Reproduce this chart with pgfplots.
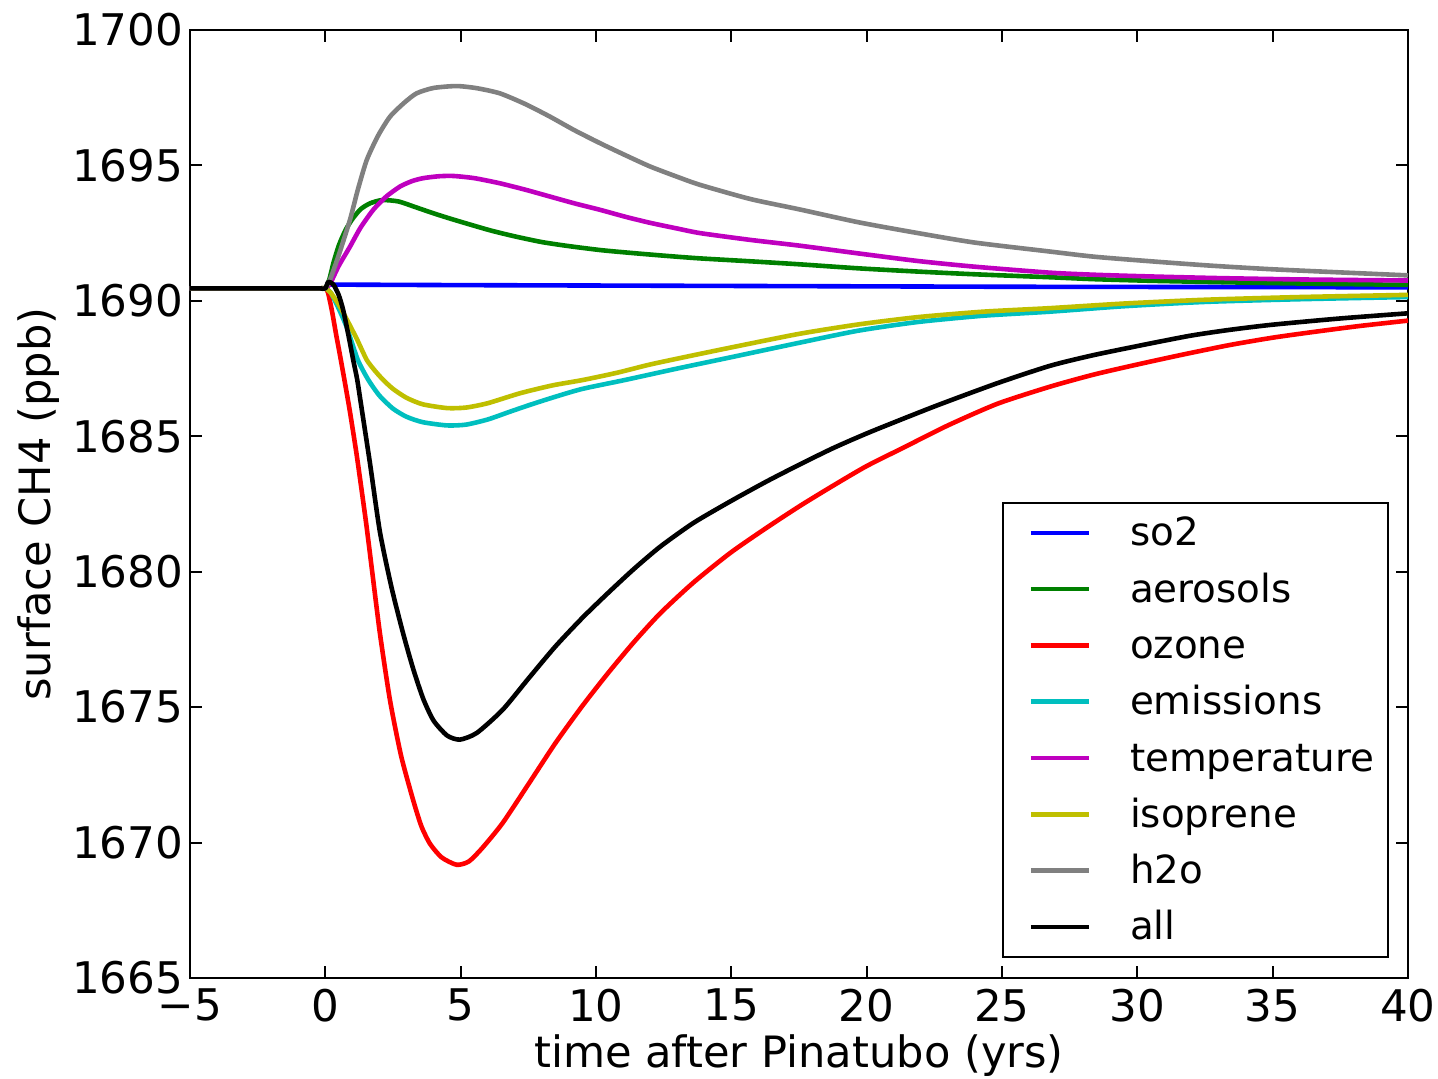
\documentclass[border=0pt]{standalone}
\usepackage{pgfplots}
\pgfplotsset{compat=1.18}
\usepackage{fontspec}
\setmainfont{DejaVu Sans}

\definecolor{mb}{rgb}{0,0,1}
\definecolor{mg}{rgb}{0,0.5,0}
\definecolor{mr}{rgb}{1,0,0}
\definecolor{mc}{rgb}{0,0.75,0.75}
\definecolor{mm}{rgb}{0.75,0,0.75}
\definecolor{my}{rgb}{0.75,0.75,0}
\definecolor{mgray}{rgb}{0.5,0.5,0.5}

\begin{document}
\begin{tikzpicture}
\begin{axis}[name=ax, scale only axis, width=304.5pt, height=237pt,
  xmin=-5, xmax=40, ymin=1665, ymax=1700,
  xtick={-5,0,...,40}, xticklabels={−5,0,5,10,15,20,25,30,35,40},
  ytick={1665,1670,...,1700},
  yticklabels={1665,1670,1675,1680,1685,1690,1695,1700},
  tick align=inside, xtick pos=both, ytick pos=both,
  major tick length=3pt, tick style={black, line width=0.5pt},
  axis line style={line width=0.6pt},
  font=\fontsize{9.7}{11.6}\selectfont,
  tick label style={font=\fontsize{10.9}{13}\selectfont},
  label style={font=\fontsize{10.8}{13}\selectfont},
  xticklabel style={inner ysep=2.5pt},
  yticklabel style={inner xsep=1.5pt},
  xlabel={time after Pinatubo (yrs)},
  ylabel={surface CH4 (ppb)},
  xlabel style={at={(axis description cs:0.5,0)}, anchor=base, yshift=-22.4pt},
  ylabel style={at={(axis description cs:-0.1149,0.5)}, anchor=base},
  every axis plot/.append style={line width=1.15pt, line join=round},
  legend cell align=left,
  legend image code/.code={\path (0pt,0pt); \draw[#1] (3pt,0pt) -- (17.5pt,0pt);},
  legend style={at={(axis description cs:1,0)}, anchor=south east,
    xshift=-4.75pt, yshift=5pt, draw=black, line width=0.5pt,
    inner xsep=3.5pt, inner ysep=0.5pt, row sep=0pt, column sep=9.75pt,
    nodes={inner sep=0pt, text height=10.3pt, text depth=3.77pt}},
]
\addplot[mb] coordinates {(-5,1690.46)(0,1690.46)(0.12,1690.6)(5,1690.58)(15,1690.55)(25,1690.52)(40,1690.5)};
\addlegendentry{so2}
\addplot[mg, smooth, tension=0.4] coordinates {(-5,1690.46)(-3,1690.46)(-1.5,1690.46)(-0.6,1690.46)(-0.2,1690.46)(0,1690.46)(0.15,1690.8)(0.3,1691.4)(0.5,1692.05)(0.75,1692.62)(1.0,1693.02)(1.3,1693.38)(1.65,1693.6)(2.1,1693.72)(2.7,1693.67)(3.3,1693.47)(4.0,1693.23)(4.6,1693.04)(5.2,1692.86)(6.1,1692.6)(7.0,1692.38)(8.0,1692.17)(9.0,1692.02)(10.2,1691.87)(11.4,1691.76)(12.6,1691.66)(13.8,1691.57)(15.7,1691.46)(17.5,1691.35)(19.7,1691.2)(21.9,1691.08)(24,1690.98)(26.8,1690.87)(28.4,1690.8)(30.5,1690.74)(33,1690.69)(36,1690.64)(40,1690.59)};
\addlegendentry{aerosols}
\addplot[mr, smooth, tension=0.4] coordinates {(-5,1690.46)(-3,1690.46)(-1.5,1690.46)(-0.6,1690.46)(-0.2,1690.46)(0,1690.46)(0.1,1690.3)(0.25,1689.6)(0.4,1688.75)(0.54,1688.0)(0.72,1687.0)(0.91,1685.9)(1.16,1684.3)(1.5,1681.85)(1.75,1679.85)(2.02,1677.7)(2.39,1675.25)(2.8,1673.2)(3.25,1671.55)(3.55,1670.6)(3.87,1669.95)(4.3,1669.45)(4.85,1669.18)(5.3,1669.3)(5.8,1669.8)(6.55,1670.72)(7.5,1672.15)(8.5,1673.67)(9.5,1675.05)(10.44,1676.25)(11.4,1677.4)(12.38,1678.47)(13.6,1679.6)(14.97,1680.7)(16.3,1681.62)(17.57,1682.45)(18.8,1683.2)(20,1683.9)(21.4,1684.6)(23,1685.4)(24.83,1686.2)(26.77,1686.83)(28.4,1687.28)(30,1687.65)(31.7,1688.02)(33.42,1688.37)(35,1688.64)(36.5,1688.85)(38.2,1689.07)(40,1689.27)};
\addlegendentry{ozone}
\addplot[mc, smooth, tension=0.4] coordinates {(-5,1690.46)(-3,1690.46)(-1.5,1690.46)(-0.6,1690.46)(-0.2,1690.46)(0,1690.46)(0.2,1690.3)(0.5,1689.7)(0.8,1689.0)(1.2,1687.82)(1.59,1687.08)(2.0,1686.5)(2.5,1686.02)(3.0,1685.72)(3.6,1685.52)(4.5,1685.4)(5.2,1685.43)(6.0,1685.62)(6.8,1685.9)(7.56,1686.16)(8.5,1686.46)(9.5,1686.75)(11.08,1687.08)(13,1687.5)(15,1687.92)(17.5,1688.45)(19.7,1688.9)(21.9,1689.22)(24.3,1689.45)(26.77,1689.6)(29.5,1689.8)(32.5,1689.96)(36,1690.06)(40,1690.14)};
\addlegendentry{emissions}
\addplot[mm, smooth, tension=0.4] coordinates {(-5,1690.46)(-3,1690.46)(-1.5,1690.46)(-0.6,1690.46)(-0.2,1690.46)(0,1690.46)(0.17,1690.62)(0.5,1691.3)(0.91,1692.0)(1.3,1692.7)(1.77,1693.36)(2.25,1693.85)(2.76,1694.22)(3.2,1694.42)(3.62,1694.53)(4.2,1694.6)(4.73,1694.61)(5.5,1694.53)(6.45,1694.34)(7.4,1694.1)(8.3,1693.85)(9.2,1693.6)(10.15,1693.36)(11.1,1693.1)(12,1692.88)(13,1692.67)(13.85,1692.5)(15.7,1692.25)(17.5,1692.04)(19.7,1691.75)(21.9,1691.47)(24,1691.26)(26.77,1691.04)(28.5,1690.96)(30.5,1690.9)(33,1690.84)(36,1690.79)(40,1690.75)};
\addlegendentry{temperature}
\addplot[my, smooth, tension=0.4] coordinates {(-5,1690.46)(-3,1690.46)(-1.5,1690.46)(-0.6,1690.46)(-0.2,1690.46)(0,1690.46)(0.2,1690.3)(0.5,1689.85)(0.8,1689.3)(1.16,1688.6)(1.53,1687.82)(1.85,1687.4)(2.14,1687.08)(2.5,1686.75)(3.0,1686.42)(3.6,1686.18)(4.5,1686.04)(5.2,1686.06)(6.0,1686.22)(7.2,1686.59)(8.4,1686.88)(9.53,1687.08)(10.8,1687.35)(12,1687.65)(13.5,1687.97)(15,1688.28)(17.5,1688.78)(19.7,1689.13)(21.9,1689.4)(24.3,1689.6)(26.77,1689.73)(29.5,1689.9)(32.5,1690.04)(36,1690.14)(40,1690.22)};
\addlegendentry{isoprene}
\addplot[mgray, smooth, tension=0.4] coordinates {(-5,1690.46)(-3,1690.46)(-1.5,1690.46)(-0.6,1690.46)(-0.2,1690.46)(0,1690.46)(0.17,1690.77)(0.5,1691.7)(0.91,1692.99)(1.2,1694.1)(1.53,1695.2)(1.95,1696.1)(2.39,1696.8)(2.9,1697.3)(3.37,1697.66)(4.0,1697.86)(4.85,1697.93)(5.6,1697.85)(6.45,1697.66)(7.4,1697.26)(8.3,1696.8)(9.2,1696.3)(10.15,1695.82)(11.1,1695.37)(12,1694.96)(13,1694.58)(13.85,1694.28)(15.7,1693.76)(17.5,1693.38)(19.7,1692.9)(21.9,1692.5)(24,1692.15)(26.77,1691.82)(28.4,1691.63)(30.5,1691.46)(32.7,1691.3)(34.9,1691.17)(37.5,1691.05)(40,1690.94)};
\addlegendentry{h2o}
\addplot[black, smooth, tension=0.4] coordinates {(-5,1690.46)(-3,1690.46)(-1.5,1690.46)(-0.6,1690.46)(-0.2,1690.46)(0,1690.46)(0.11,1690.7)(0.3,1690.6)(0.5,1690.2)(0.66,1689.66)(0.85,1688.75)(1.03,1687.82)(1.18,1687.08)(1.3,1686.3)(1.65,1684.0)(2.02,1681.45)(2.45,1679.4)(2.88,1677.7)(3.25,1676.4)(3.62,1675.3)(4.0,1674.5)(4.5,1673.95)(4.97,1673.8)(5.6,1674.05)(6.55,1674.9)(7.5,1676.05)(8.5,1677.24)(9.5,1678.3)(10.44,1679.21)(11.4,1680.1)(12.38,1680.93)(13.6,1681.8)(14.97,1682.6)(16.3,1683.33)(17.55,1683.97)(18.8,1684.58)(20.16,1685.17)(22.5,1686.1)(24.8,1686.95)(26.77,1687.6)(28.4,1688.0)(30.5,1688.43)(32,1688.72)(33.42,1688.93)(35,1689.12)(37.5,1689.35)(40,1689.54)};
\addlegendentry{all}
\end{axis}
\pgfresetboundingbox
\path[use as bounding box] ([xshift=-47.5pt,yshift=-25.25pt]ax.south west) rectangle ([xshift=7.5pt,yshift=7.5pt]ax.north east);
\end{tikzpicture}
\end{document}
